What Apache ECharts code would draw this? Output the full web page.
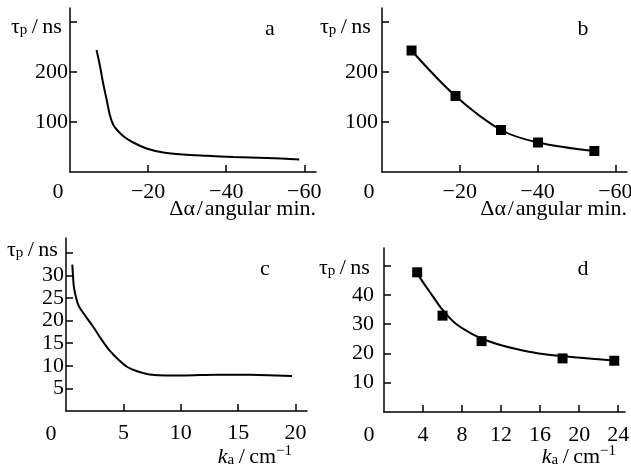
<!DOCTYPE html>
<html>
<head>
<meta charset="utf-8">
<script src="https://cdn.jsdelivr.net/npm/echarts@6/dist/echarts.min.js"></script>
<style>
html, body { margin: 0; background: #fff; }
#chart { width: 631px; height: 470px; }
</style>
</head>
<body>
<div id="chart"></div>
<script>
// a: pulse duration vs detuning (curve only)
var curveA = [[-6.8, 244], [-7.7, 211], [-8.5, 177], [-9.4, 144], [-10.2, 114], [-11.1, 94],
  [-12.4, 81], [-14.1, 69], [-16.2, 59], [-19.6, 47], [-23.9, 39], [-29, 35], [-35, 32.5],
  [-41.8, 30], [-50.4, 28], [-58.7, 25]];
// b: measured points, curve drawn through them
var pointsB = [[-7.6, 243], [-18.9, 152], [-30.6, 84], [-40.1, 59], [-54.6, 42]];
// c: pulse duration vs absorption coefficient
var curveC = [[0.55, 32.4], [0.62, 29.5], [0.7, 27.2], [1.07, 23.5], [1.7, 21], [2.38, 18.6],
  [3.1, 15.8], [3.83, 13.3], [4.6, 11.3], [5.3, 9.8], [6.2, 8.8], [7.26, 8.1], [8.8, 7.85],
  [10.2, 7.85], [13.1, 8.05], [16, 8.0], [19.7, 7.75]];
// d: measured points and fitted curve
var pointsD = [[3.4, 47.7], [6.0, 32.9], [10.0, 24.2], [18.3, 18.3], [23.6, 17.5]];
var curveD = [[3.5, 47.2], [3.7, 45.8], [4.9, 40], [5.9, 35.3], [7.3, 30.3], [9.0, 26.7],
  [10.4, 24.6], [12.1, 22.7], [14, 21.2], [16.3, 19.8], [19.8, 18.6], [23.5, 17.6]];

var xTicksAB = [-20, -40, -60];
var yTicksAB = [100, 200, 300];
var yLabelsAB = [100, 200];
var xTicksC = [5, 10, 15, 20];
var yTicksC = [5, 10, 15, 20, 25, 30, 35];
var yLabelsC = [5, 10, 15, 20, 25, 30];
var xTicksD = [4, 8, 12, 16, 20, 24];
var yTicksD = [10, 20, 30, 40, 50];
var yLabelsD = [10, 20, 30, 40];

var FONT = '"Liberation Serif", "Times New Roman", serif';
var black = '#000';

function fmt(v) {
  return v < 0 ? '\u2212' + (-v) : String(v);
}

function axis(idx, min, max, inverse, ticks, labels, margin) {
  return {
    gridIndex: idx,
    type: 'value',
    min: min,
    max: max,
    inverse: inverse,
    axisLine: { onZero: false, lineStyle: { color: black, width: 1.5 } },
    axisTick: { inside: true, length: 7, customValues: ticks, lineStyle: { color: black, width: 1.5 } },
    axisLabel: {
      customValues: labels, margin: margin, color: black,
      fontFamily: FONT, fontSize: 22, formatter: fmt
    },
    splitLine: { show: false }
  };
}

var rich = {
  m: { fontFamily: FONT, fontSize: 22, fill: black, lineHeight: 24, verticalAlign: 'bottom' },
  i: { fontFamily: FONT, fontSize: 22, fontStyle: 'italic', fill: black, lineHeight: 24, verticalAlign: 'bottom' },
  s: { fontFamily: FONT, fontSize: 15, fill: black, lineHeight: 9, verticalAlign: 'bottom' },
  p: { fontFamily: FONT, fontSize: 15, fill: black, lineHeight: 14, verticalAlign: 'top' }
};

function txt(x, y, text, align, size) {
  return {
    type: 'text', x: x, y: y, silent: true,
    style: {
      text: text, textAlign: align, textVerticalAlign: 'middle',
      fontFamily: FONT, fontSize: size || 22, fill: black, rich: rich
    }
  };
}

var yTitle = '{m|\u03c4}{s|p}{m|\u2009/\u2009ns}';
var xTitleAB = '{m|\u0394\u03b1\u200a/\u200aangular min.}';
var xTitleCD = '{i|k}{s|a}{m|\u2009/\u2009cm}{p|\u22121}';

function line(idx, data, smooth) {
  return {
    type: 'line', xAxisIndex: idx, yAxisIndex: idx, data: data,
    showSymbol: false, symbol: 'none', smooth: smooth,
    lineStyle: { color: black, width: 2 }, silent: true
  };
}
function squares(idx, data) {
  return {
    type: 'scatter', xAxisIndex: idx, yAxisIndex: idx, data: data,
    symbol: 'rect', symbolSize: 10, itemStyle: { color: black, opacity: 1 }, silent: true
  };
}

var chart = echarts.init(document.getElementById('chart'));
chart.setOption({
  animation: false,
  backgroundColor: '#fff',
  grid: [
    { left: 70, top: 8, width: 246, height: 164, outerBoundsMode: 'none' },
    { left: 382, top: 8, width: 245, height: 164, outerBoundsMode: 'none' },
    { left: 66, top: 238, width: 241, height: 173, outerBoundsMode: 'none' },
    { left: 384, top: 248, width: 241, height: 164, outerBoundsMode: 'none' }
  ],
  xAxis: [
    axis(0, -63, 0, true, xTicksAB, xTicksAB, 9),
    axis(1, -63, 0, true, xTicksAB, xTicksAB, 9),
    axis(2, 0, 21, false, xTicksC, xTicksC, 11),
    axis(3, 0, 24.7, false, xTicksD, xTicksD, 12)
  ],
  yAxis: [
    axis(0, 0, 328, false, yTicksAB, yLabelsAB, 2),
    axis(1, 0, 328, false, yTicksAB, yLabelsAB, 4),
    axis(2, 0, 38.3, false, yTicksC, yLabelsC, 2),
    axis(3, 0, 56, false, yTicksD, yLabelsD, 10)
  ],
  series: [
    line(0, curveA, 0.3),
    line(1, pointsB, 0.35),
    squares(1, pointsB),
    line(2, curveC, 0.3),
    line(3, curveD, 0.3),
    squares(3, pointsD)
  ],
  graphic: [
    txt(58, 192, '0', 'center'),
    txt(369, 192, '0', 'center'),
    txt(51, 434, '0', 'center'),
    txt(369, 435, '0', 'center'),
    txt(270, 29, 'a', 'center'),
    txt(583, 29, 'b', 'center'),
    txt(265, 269, 'c', 'center'),
    txt(583, 269, 'd', 'center'),
    txt(11, 26, yTitle, 'left'),
    txt(320, 26, yTitle, 'left'),
    txt(7, 249, yTitle, 'left'),
    txt(319, 267, yTitle, 'left'),
    txt(316, 208, xTitleAB, 'right'),
    txt(627, 208, xTitleAB, 'right'),
    txt(292, 456, xTitleCD, 'right'),
    txt(616, 456, xTitleCD, 'right')
  ]
});
</script>
</body>
</html>
